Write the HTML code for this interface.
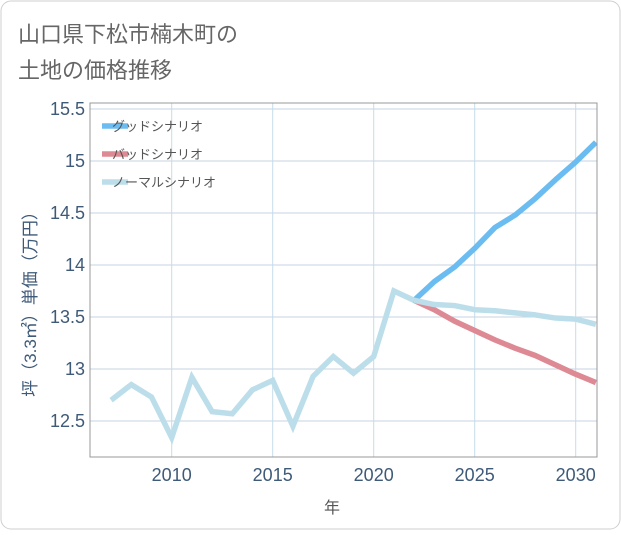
<!DOCTYPE html>
<html><head><meta charset="utf-8"><style>
body{margin:0;background:#fff;font-family:"Liberation Sans","Noto Sans CJK JP",sans-serif;}
#wrap{position:relative;width:621px;height:530px;}
</style></head><body>
<div id="wrap">
<svg id="chart" width="621" height="530" xmlns="http://www.w3.org/2000/svg">
<rect x="1" y="1" width="619" height="528" rx="10" fill="#fff" stroke="#cfcfcf"/>
<text x="18" y="42" font-size="22" fill="#666">山口県下松市楠木町の</text>
<text x="18" y="78" font-size="22" fill="#666">土地の価格推移</text>
<g id="grid"></g>
<g id="series"></g>
<rect x="90" y="103" width="507" height="354" fill="none" stroke="#999"/>
<g id="axes"></g>
<text x="332" y="513" font-size="16" fill="#555" text-anchor="middle">年</text>
<text transform="translate(36,300) rotate(-90)" font-size="17" fill="#3e5a78" text-anchor="middle">坪（3.3㎡）単価（万円）</text>
<g id="legend"></g>
</svg>
</div>
<script>
const histYears=[2007,2008,2009,2010,2011,2012,2013,2014,2015,2016,2017,2018,2019,2020,2021,2022];
const histValues=[12.70,12.85,12.73,12.34,12.92,12.59,12.57,12.80,12.89,12.45,12.93,13.12,12.96,13.12,13.75,13.66];
const futYears=[2022,2023,2024,2025,2026,2027,2028,2029,2030,2031];
const goodValues=[13.66,13.84,13.98,14.16,14.36,14.48,14.64,14.82,14.99,15.18];
const badValues=[13.66,13.57,13.46,13.37,13.28,13.20,13.13,13.04,12.95,12.87];
const normalValues=[13.66,13.62,13.61,13.57,13.56,13.54,13.52,13.49,13.48,13.43];
const yTicks=[12.5,13,13.5,14,14.5,15,15.5];
const yTickLabels=["12.5","13","13.5","14","14.5","15","15.5"];
const xTicks=[2010,2015,2020,2025,2030];
const legendLabels=["グッドシナリオ","バッドシナリオ","ノーマルシナリオ"];
const NS="http://www.w3.org/2000/svg";
function xs(y){return 171.7+(y-2010)*20.2;}
function ys(v){return 421-(v-12.5)*104;}
function mk(tag,attrs,parent){const e=document.createElementNS(NS,tag);for(const k in attrs)e.setAttribute(k,attrs[k]);document.getElementById(parent).appendChild(e);return e;}
yTicks.forEach((v,i)=>{
 const l=mk('line',{x1:90,x2:597,y1:ys(v),y2:ys(v),stroke:'#c5d3e0','stroke-width':1},'grid');
 
 
 const t=mk('text',{x:85,y:ys(v)+6,'font-size':18,fill:'#3e5a78','text-anchor':'end'},'axes');
 t.textContent=yTickLabels[i];
 
 
});
xTicks.forEach(y=>{
 const l=mk('line',{x1:xs(y),x2:xs(y),y1:103,y2:457,stroke:'#c4dcea','stroke-width':1},'grid');
 
 
 const t=mk('text',{x:xs(y),y:481,'font-size':18,fill:'#3e5a78','text-anchor':'middle'},'axes');
 t.textContent=String(y);
 
 
});
function pts(yrs,vals){return yrs.map((y,i)=>xs(y)+','+ys(vals[i])).join(' ');}
const g=mk('polyline',{points:pts(futYears,goodValues),fill:'none',stroke:'#6bbcf0','stroke-width':5.5,'stroke-linejoin':'round'},'series');


const b=mk('polyline',{points:pts(futYears,badValues),fill:'none',stroke:'#de8a94','stroke-width':5.5,'stroke-linejoin':'round'},'series');


const n=mk('polyline',{points:pts(futYears,normalValues),fill:'none',stroke:'#bcdeea','stroke-width':5.5,'stroke-linejoin':'round'},'series');


const h=mk('polyline',{points:pts(histYears,histValues),fill:'none',stroke:'#bcdeea','stroke-width':5.5,'stroke-linejoin':'miter'},'series');


const lc=['#6bbcf0','#de8a94','#bcdeea'];
legendLabels.forEach((s,i)=>{
 const y=126+i*28;
 const l=mk('line',{x1:102,x2:128,y1:y,y2:y,stroke:lc[i],'stroke-width':5.5},'legend');
 
 
 const t=mk('text',{x:112,y:y+5,'font-size':13,fill:'#555'},'legend');
 t.textContent=s;
 
 
});
</script>
</body></html>
